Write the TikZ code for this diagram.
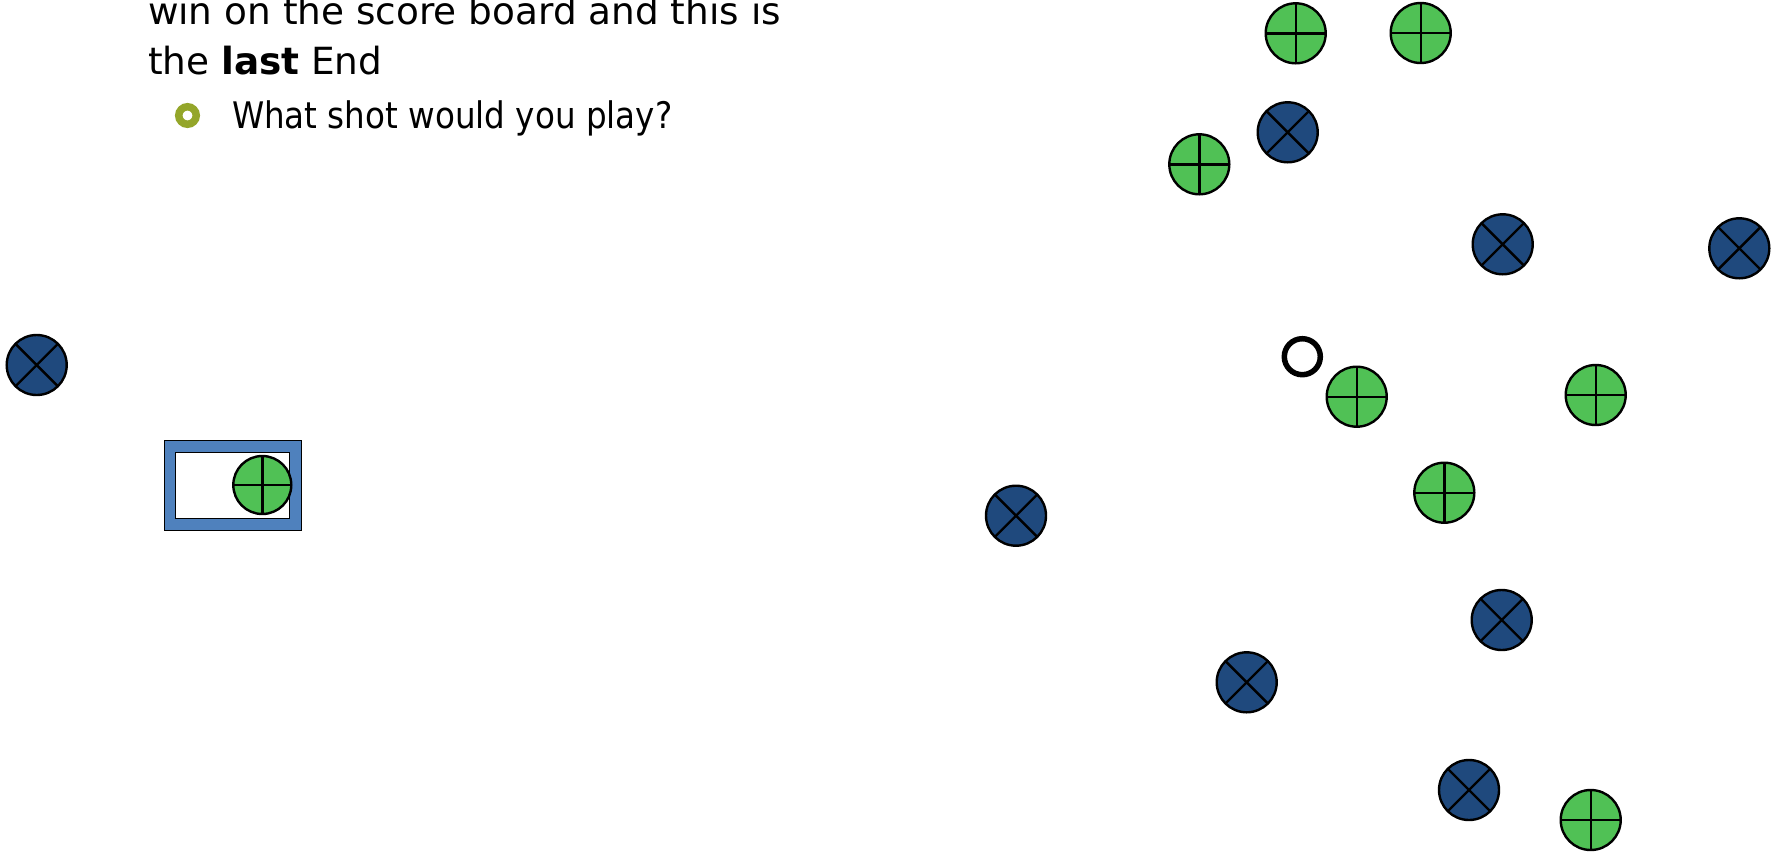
\documentclass[tikz,border=0pt]{standalone}
\usepackage{fontspec}
\setmainfont{DejaVu Sans}
\newfontfamily\narrowfont[FakeStretch=0.89]{DejaVu Sans}
\definecolor{stoneblue}{RGB}{31,73,125}
\definecolor{stonegreen}{RGB}{80,193,85}
\definecolor{frameblue}{RGB}{79,129,189}
\definecolor{bulletgreen}{RGB}{148,166,42}
\tikzset{
  stonebase/.style={circle, draw=black, line width=2.4pt, minimum size=60pt, inner sep=0pt},
  greenstone/.style={stonebase, fill=stonegreen,
    path picture={\draw[line width=2.4pt] (path picture bounding box.north) -- (path picture bounding box.south)
      (path picture bounding box.west) -- (path picture bounding box.east);}},
  bluestone/.style={stonebase, fill=stoneblue,
    path picture={\draw[line width=2.4pt] (path picture bounding box.north west) -- (path picture bounding box.south east)
      (path picture bounding box.north east) -- (path picture bounding box.south west);}},
  textline/.style={anchor=base west, inner sep=0pt, outer sep=0pt},
}
\begin{document}
\begin{tikzpicture}[x=1pt, y=-1pt]
\useasboundingbox (0,0) rectangle (1777,852);
% text
\node[textline, font=\fontsize{37.4}{45}\selectfont] (l1) at (148,24) {win on the score board and this is};
\node[textline, font=\fontsize{37.4}{45}\selectfont] (l2) at (148,74) {the \textbf{last} End};
\node[circle, draw=bulletgreen, line width=7.5pt, minimum size=17.5pt, inner sep=0pt] (bul) at (187.5,115.5) {};
\node[textline, font=\narrowfont\fontsize{36.6}{44}\selectfont] (l3) at (232,128) {What shot would you play?};
% scoreboard frame
\node[draw=black, line width=1pt, fill=frameblue, minimum width=137pt, minimum height=89.3pt, inner sep=0pt] (frame) at (232.5,485.35) {};
\node[draw=black, line width=1pt, fill=white, minimum width=113.6pt, minimum height=66.4pt, inner sep=0pt] (inner) at (232.5,485.5) {};
\node[greenstone, minimum size=58pt] (g8) at (262.3,485) {};
% green stones
\node[greenstone] (g1) at (1295.7,33.3) {};
\node[greenstone] (g2) at (1420.7,33) {};
\node[greenstone] (g3) at (1199.3,164.3) {};
\node[greenstone] (g4) at (1356.7,396.7) {};
\node[greenstone] (g5) at (1595.7,395) {};
\node[greenstone] (g6) at (1444.3,492.7) {};
\node[greenstone] (g7) at (1590.7,820) {};
% blue stones
\node[bluestone] (b1) at (1287.7,132.3) {};
\node[bluestone] (b2) at (1502.7,244.3) {};
\node[bluestone] (b3) at (1739.3,248.3) {};
\node[bluestone] (b4) at (36.7,365) {};
\node[bluestone] (b5) at (1016,515.7) {};
\node[bluestone] (b6) at (1246.7,682.3) {};
\node[bluestone] (b7) at (1501.7,620) {};
\node[bluestone] (b8) at (1469,790) {};
% button (tee marker)
\node[circle, draw=black, line width=5.5pt, minimum size=36pt, inner sep=0pt] (ring) at (1302.3,356.7) {};
\end{tikzpicture}
\end{document}
